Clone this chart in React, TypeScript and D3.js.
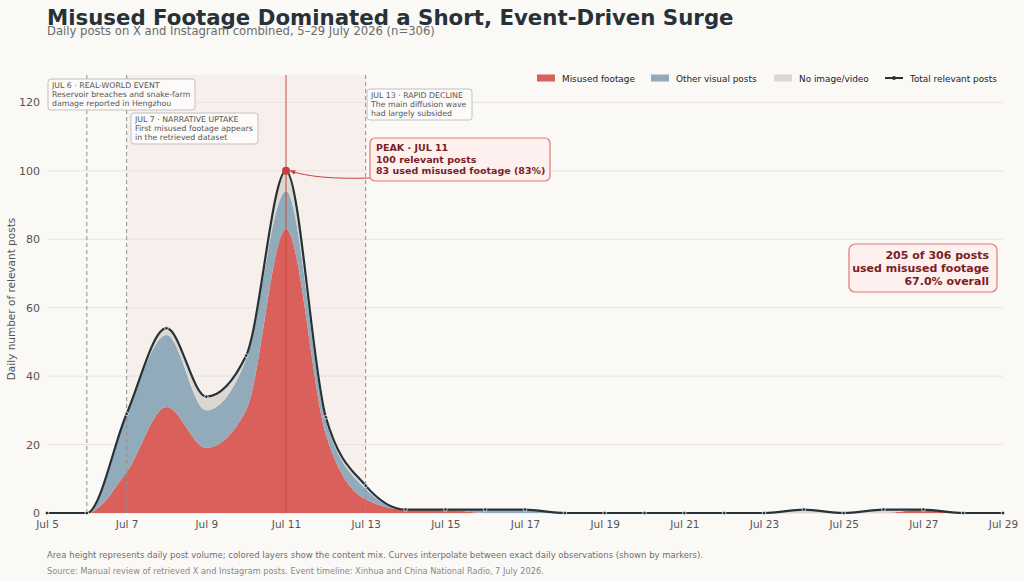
import React, { useEffect, useRef } from "react";
import * as d3 from "d3";

// daily observations, 5–29 July 2026
const days = d3.range(5, 30);
const misused = [0, 0, 12, 31, 19, 30, 83, 23, 4, 1, 1, 0, 0, 0, 0, 0, 0, 0, 0, 0, 0, 0, 1, 0, 0];
const otherVisual = [0, 0, 17, 21, 11, 15, 11, 4, 3, 0, 0, 1, 1, 0, 0, 0, 0, 0, 0, 0, 0, 0, 0, 0, 0];
const noImage = [0, 0, 0, 2, 4, 1, 6, 1, 1, 0, 0, 0, 0, 0, 0, 0, 0, 0, 0, 1, 0, 1, 0, 0, 0];
const yTicks = [0, 20, 40, 60, 80, 100, 120];
const xTickDays = d3.range(5, 30, 2);

const layerKeys = ["misused", "other", "none"] as const;
const layerColors: Record<string, string> = {
  misused: "#d9605b",
  other: "#92abbb",
  none: "#dcd8d1",
};
const legendItems = [
  { key: "misused", label: "Misused footage" },
  { key: "other", label: "Other visual posts" },
  { key: "none", label: "No image/video" },
  { key: "total", label: "Total relevant posts" },
];

const events = [
  { day: 6, title: "JUL 6 · REAL-WORLD EVENT", lines: ["Reservoir breaches and snake-farm", "damage reported in Hengzhou"], bx: 48, by: 79, bw: 147 },
  { day: 7, title: "JUL 7 · NARRATIVE UPTAKE", lines: ["First misused footage appears", "in the retrieved dataset"], bx: 131, by: 113, bw: 127 },
  { day: 13, title: "JUL 13 · RAPID DECLINE", lines: ["The main diffusion wave", "had largely subsided"], bx: 367, by: 89, bw: 105 },
];

const FONT = "DejaVu Sans, sans-serif";
const INK = "#263238";

const App: React.FC = () => {
  const svgRef = useRef<SVGSVGElement | null>(null);

  useEffect(() => {
    if (!svgRef.current) return;
    const width = 1024;
    const height = 581;
    const margin = { top: 75, right: 21, bottom: 68, left: 47 };
    const innerWidth = width - margin.left - margin.right;
    const innerHeight = height - margin.top - margin.bottom;

    const data = days.map((d, i) => ({
      date: new Date(2026, 6, d),
      misused: misused[i],
      other: otherVisual[i],
      none: noImage[i],
      total: misused[i] + otherVisual[i] + noImage[i],
    }));
    const totalPosts = d3.sum(data, d => d.total);
    const totalMisused = d3.sum(misused);
    const peak = data.reduce((a, b) => (b.total > a.total ? b : a));

    const root = d3.select(svgRef.current);
    root.selectAll("*").remove();
    root.attr("width", width).attr("height", height).style("font-family", FONT);

    root.append("rect").attr("width", width).attr("height", height).attr("fill", "#faf9f6");

    const x = d3
      .scaleTime()
      .domain([new Date(2026, 6, 5), new Date(2026, 6, 29)])
      .range([0, innerWidth]);
    const y = d3.scaleLinear().domain([0, 128]).range([innerHeight, 0]);
    const dx = (d: number) => x(new Date(2026, 6, d));

    // title block
    root.append("text")
      .attr("x", 47).attr("y", 25)
      .attr("font-size", 21.3).attr("font-weight", "bold").attr("fill", INK)
      .text("Misused Footage Dominated a Short, Event-Driven Surge");
    root.append("text")
      .attr("x", 47).attr("y", 35)
      .attr("font-size", 11.6).attr("fill", "#6b6b6b")
      .text(`Daily posts on X and Instagram combined, 5–29 July 2026 (n=${totalPosts})`);

    const svg = root.append("g").attr("transform", `translate(${margin.left},${margin.top})`);

    // event window shading
    svg.append("rect")
      .attr("x", dx(7)).attr("y", 0)
      .attr("width", dx(13) - dx(7)).attr("height", innerHeight)
      .attr("fill", "#f6ebe8").attr("opacity", 0.75);

    // gridlines
    svg.append("g")
      .selectAll("line")
      .data(yTicks)
      .join("line")
      .attr("x1", 0).attr("x2", innerWidth)
      .attr("y1", d => y(d)).attr("y2", d => y(d))
      .attr("stroke", "#e4e1dc").attr("stroke-width", 0.9);

    // y axis labels
    const yAxis = svg.append("g").call(d3.axisLeft(y).tickValues(yTicks).tickSize(0).tickPadding(7));
    yAxis.select(".domain").remove();
    yAxis.selectAll("text").attr("font-size", 11).attr("fill", "#555").attr("font-family", FONT);

    // x axis labels
    const xAxis = svg.append("g")
      .attr("transform", `translate(0,${innerHeight})`)
      .call(
        d3.axisBottom(x)
          .tickValues(xTickDays.map(d => new Date(2026, 6, d)))
          .tickFormat(d3.timeFormat("%b %-d") as any)
          .tickSize(0)
          .tickPadding(8)
      );
    xAxis.select(".domain").remove();
    xAxis.selectAll("text").attr("font-size", 10.5).attr("fill", "#555").attr("font-family", FONT);

    root.append("text")
      .attr("transform", `translate(15,${margin.top + innerHeight / 2 + 5}) rotate(-90)`)
      .attr("text-anchor", "middle")
      .attr("font-size", 10.5).attr("fill", "#555")
      .text("Daily number of relevant posts");

    // stacked areas
    const stack = d3.stack<any>().keys(layerKeys as unknown as string[]);
    const series = stack(data);
    const area = d3
      .area<any>()
      .x(d => x(d.data.date))
      .y0(d => y(d[0]))
      .y1(d => y(d[1]))
      .curve(d3.curveMonotoneX);
    svg.append("g")
      .selectAll("path")
      .data(series)
      .join("path")
      .attr("fill", d => layerColors[d.key])
      .attr("d", area as any);

    // event marker lines
    svg.append("g")
      .selectAll("line")
      .data(events)
      .join("line")
      .attr("x1", d => dx(d.day)).attr("x2", d => dx(d.day))
      .attr("y1", 0).attr("y2", innerHeight)
      .attr("stroke", "#8f8f8f").attr("stroke-width", 1)
      .attr("stroke-dasharray", "4,3");

    // peak line
    svg.append("line")
      .attr("x1", x(peak.date)).attr("x2", x(peak.date))
      .attr("y1", 0).attr("y2", innerHeight)
      .attr("stroke", "#c6453f").attr("stroke-width", 1.2).attr("opacity", 0.8);

    // total line
    const line = d3
      .line<any>()
      .x(d => x(d.date))
      .y(d => y(d.total))
      .curve(d3.curveMonotoneX);
    svg.append("path")
      .datum(data)
      .attr("fill", "none")
      .attr("stroke", INK)
      .attr("stroke-width", 2.2)
      .attr("d", line as any);

    svg.append("g")
      .selectAll("circle")
      .data(data)
      .join("circle")
      .attr("cx", d => x(d.date)).attr("cy", d => y(d.total))
      .attr("r", 1.8)
      .attr("fill", INK).attr("stroke", "#ffffff").attr("stroke-width", 0.7);

    // peak point + callout
    const px = x(peak.date);
    const py = y(peak.total);
    const bx = 370 - margin.left;
    const by = 138 - margin.top;
    const bw = 180;
    const bh = 43;

    svg.append("defs").append("marker")
      .attr("id", "arrow")
      .attr("viewBox", "0 0 10 10")
      .attr("refX", 9).attr("refY", 5)
      .attr("markerWidth", 6).attr("markerHeight", 6)
      .attr("orient", "auto")
      .append("path")
      .attr("d", "M0,1 L10,5 L0,9 z")
      .attr("fill", "#c6453f");

    svg.append("path")
      .attr("d", `M${bx + 1},${by + 40} Q${px + 30},${py + 9} ${px + 4},${py}`)
      .attr("fill", "none")
      .attr("stroke", "#c6453f").attr("stroke-width", 1)
      .attr("marker-end", "url(#arrow)");

    svg.append("circle")
      .attr("cx", px).attr("cy", py).attr("r", 4)
      .attr("fill", "#c6403a");

    svg.append("rect")
      .attr("x", bx).attr("y", by).attr("width", bw).attr("height", bh)
      .attr("rx", 5)
      .attr("fill", "#fdf0ef").attr("stroke", "#e07a76").attr("stroke-width", 1.2);
    const peakLines = [
      "PEAK · JUL 11",
      `${peak.total} relevant posts`,
      `${peak.misused} used misused footage (${Math.round((peak.misused / peak.total) * 100)}%)`,
    ];
    svg.append("text")
      .attr("font-size", 9.5).attr("font-weight", "bold").attr("fill", "#7a1f1f")
      .selectAll("tspan")
      .data(peakLines)
      .join("tspan")
      .attr("x", bx + 6)
      .attr("y", (_, i) => by + 13 + i * 11.5)
      .text(d => d);

    // summary box
    const sx = 849 - margin.left;
    const sy = 244 - margin.top;
    svg.append("rect")
      .attr("x", sx).attr("y", sy).attr("width", 148).attr("height", 48)
      .attr("rx", 6)
      .attr("fill", "#fdf0ef").attr("stroke", "#e07a76").attr("stroke-width", 1.2);
    const summaryLines = [
      `${totalMisused} of ${totalPosts} posts`,
      "used misused footage",
      `${((totalMisused / totalPosts) * 100).toFixed(1)}% overall`,
    ];
    svg.append("text")
      .attr("font-size", 11).attr("font-weight", "bold").attr("fill", "#7a1f1f")
      .attr("text-anchor", "end")
      .selectAll("tspan")
      .data(summaryLines)
      .join("tspan")
      .attr("x", sx + 140)
      .attr("y", (_, i) => sy + 15 + i * 13)
      .text(d => d);

    // event notes
    const notes = svg.append("g")
      .selectAll("g")
      .data(events)
      .join("g")
      .attr("transform", d => `translate(${d.bx - margin.left},${d.by - margin.top})`);
    notes.append("rect")
      .attr("width", d => d.bw).attr("height", 31)
      .attr("rx", 3)
      .attr("fill", "#fcfbf9").attr("stroke", "#c4c1bc").attr("stroke-width", 1);
    notes.append("text")
      .attr("font-size", 7.8).attr("fill", "#555")
      .selectAll("tspan")
      .data(d => [d.title, ...d.lines])
      .join("tspan")
      .attr("x", 4)
      .attr("y", (_, i) => 9 + i * 9)
      .text(d => d);

    // legend
    const legendX = [537, 651, 774, 885];
    const legend = root.append("g")
      .selectAll("g")
      .data(legendItems)
      .join("g")
      .attr("transform", (_, i) => `translate(${legendX[i]},78)`);
    legend.filter(d => d.key !== "total")
      .append("rect")
      .attr("x", 0).attr("y", -3.5).attr("width", 18).attr("height", 7)
      .attr("fill", d => layerColors[d.key]);
    const totalItem = legend.filter(d => d.key === "total");
    totalItem.append("line")
      .attr("x1", 0).attr("x2", 18).attr("y1", 0).attr("y2", 0)
      .attr("stroke", INK).attr("stroke-width", 2);
    totalItem.append("circle")
      .attr("cx", 9).attr("cy", 0).attr("r", 2)
      .attr("fill", INK);
    legend.append("text")
      .attr("x", 25).attr("y", 3.5)
      .attr("font-size", 8.9).attr("fill", "#222")
      .text(d => d.label);

    // footer notes
    root.append("text")
      .attr("x", 47).attr("y", 558)
      .attr("font-size", 8.5).attr("fill", "#6f6f6f")
      .text("Area height represents daily post volume; colored layers show the content mix. Curves interpolate between exact daily observations (shown by markers).");
    root.append("text")
      .attr("x", 47).attr("y", 574)
      .attr("font-size", 8.2).attr("fill", "#888")
      .text("Source: Manual review of retrieved X and Instagram posts. Event timeline: Xinhua and China National Radio, 7 July 2026.");
  }, []);

  return (
    <div style={{ position: "fixed", left: 0, top: 0, width: 1024, height: 581 }}>
      <svg ref={svgRef}></svg>
    </div>
  );
};

export default App;
